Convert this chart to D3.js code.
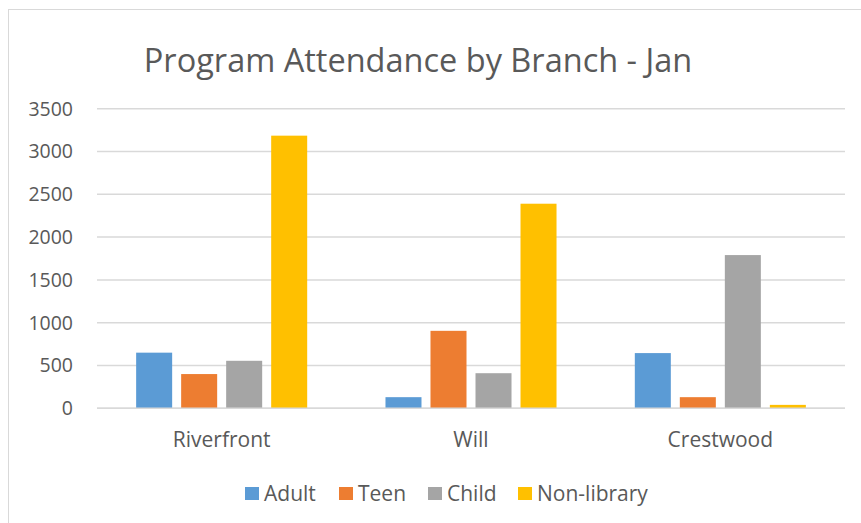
<!DOCTYPE html>
<html>
<head>
<meta charset="utf-8">
<script src="https://cdn.jsdelivr.net/npm/d3@7"></script>
<style>
  body { margin: 0; background: #fff; }
  svg { display: block; font-family: "Open Sans", sans-serif; }
</style>
</head>
<body>
<svg width="861" height="523"></svg>
<script>
// chart data
var branches = ["Riverfront", "Will", "Crestwood"];
var seriesNames = ["Adult", "Teen", "Child", "Non-library"];
var adult = [650, 130, 645];
var teen = [400, 905, 130];
var child = [555, 410, 1790];
var nonLibrary = [3185, 2390, 40];
var yTicks = [0, 500, 1000, 1500, 2000, 2500, 3000, 3500];
var colors = ["#5B9BD5", "#ED7D31", "#A5A5A5", "#FFC000"];

var seriesValues = [adult, teen, child, nonLibrary];

var svg = d3.select("svg"),
    width = +svg.attr("width"),
    height = +svg.attr("height");

var plot = { left: 97, right: 845, top: 108.7, bottom: 408.3 };

// chart area border (runs off the right and bottom edges)
svg.append("rect")
    .attr("x", 8.5).attr("y", 9.5)
    .attr("width", 900).attr("height", 600)
    .attr("fill", "#fff")
    .attr("stroke", "#d9d9d9")
    .attr("stroke-width", 1);

var x0 = d3.scaleBand()
    .domain(branches)
    .range([plot.left, plot.right])
    .paddingInner(0.314)
    .paddingOuter(0.157);

var x1 = d3.scaleBand()
    .domain(seriesNames)
    .range([0, x0.bandwidth()])
    .paddingInner(0.2);

var y = d3.scaleLinear()
    .domain([0, 3500])
    .range([plot.bottom, plot.top]);

var color = d3.scaleOrdinal().domain(seriesNames).range(colors);

// gridlines
svg.append("g")
    .selectAll("line")
    .data(yTicks)
    .enter().append("line")
      .attr("x1", plot.left)
      .attr("x2", plot.right)
      .attr("y1", function(d) { return y(d); })
      .attr("y2", function(d) { return y(d); })
      .attr("stroke", "#d9d9d9")
      .attr("stroke-width", 1.5);

// y tick labels
svg.append("g")
    .selectAll("text")
    .data(yTicks)
    .enter().append("text")
      .attr("x", 73)
      .attr("y", function(d) { return y(d); })
      .attr("dy", "0.35em")
      .attr("text-anchor", "end")
      .attr("font-size", 19.5)
      .attr("fill", "#595959")
      .text(function(d) { return d; });

// bars
var rows = branches.map(function(b, i) {
  return { branch: b, values: seriesNames.map(function(s, j) { return { key: s, value: seriesValues[j][i] }; }) };
});

var group = svg.append("g")
  .selectAll("g")
  .data(rows)
  .enter().append("g")
    .attr("transform", function(d) { return "translate(" + x0(d.branch) + ",0)"; });

group.selectAll("rect")
    .data(function(d) { return d.values; })
    .enter().append("rect")
      .attr("x", function(d) { return x1(d.key); })
      .attr("y", function(d) { return y(d.value); })
      .attr("width", x1.bandwidth())
      .attr("height", function(d) { return y(0) - y(d.value); })
      .attr("fill", function(d) { return color(d.key); });

// baseline drawn over bars
svg.append("line")
    .attr("x1", plot.left).attr("x2", plot.right)
    .attr("y1", y(0)).attr("y2", y(0))
    .attr("stroke", "#d9d9d9")
    .attr("stroke-width", 1.5);

// category labels
svg.append("g")
  .selectAll("text")
  .data(branches)
  .enter().append("text")
    .attr("x", function(d) { return x0(d) + x0.bandwidth() / 2; })
    .attr("y", 447)
    .attr("text-anchor", "middle")
    .attr("font-size", 21)
    .attr("fill", "#595959")
    .text(function(d) { return d; });

// title
svg.append("text")
    .attr("x", 418)
    .attr("y", 72)
    .attr("text-anchor", "middle")
    .attr("font-size", 32.5)
    .attr("fill", "#595959")
    .text("Program Attendance by Branch - Jan");

// legend
var legendX = [245, 339, 428, 518];
var legend = svg.append("g")
  .selectAll("g")
  .data(seriesNames)
  .enter().append("g")
    .attr("transform", function(d, i) { return "translate(" + legendX[i] + ",487)"; });

legend.append("rect")
    .attr("width", 14).attr("height", 13)
    .attr("fill", function(d) { return color(d); });

legend.append("text")
    .attr("x", 19)
    .attr("y", 13.5)
    .attr("font-size", 21)
    .attr("fill", "#595959")
    .text(function(d) { return d; });
</script>
</body>
</html>
